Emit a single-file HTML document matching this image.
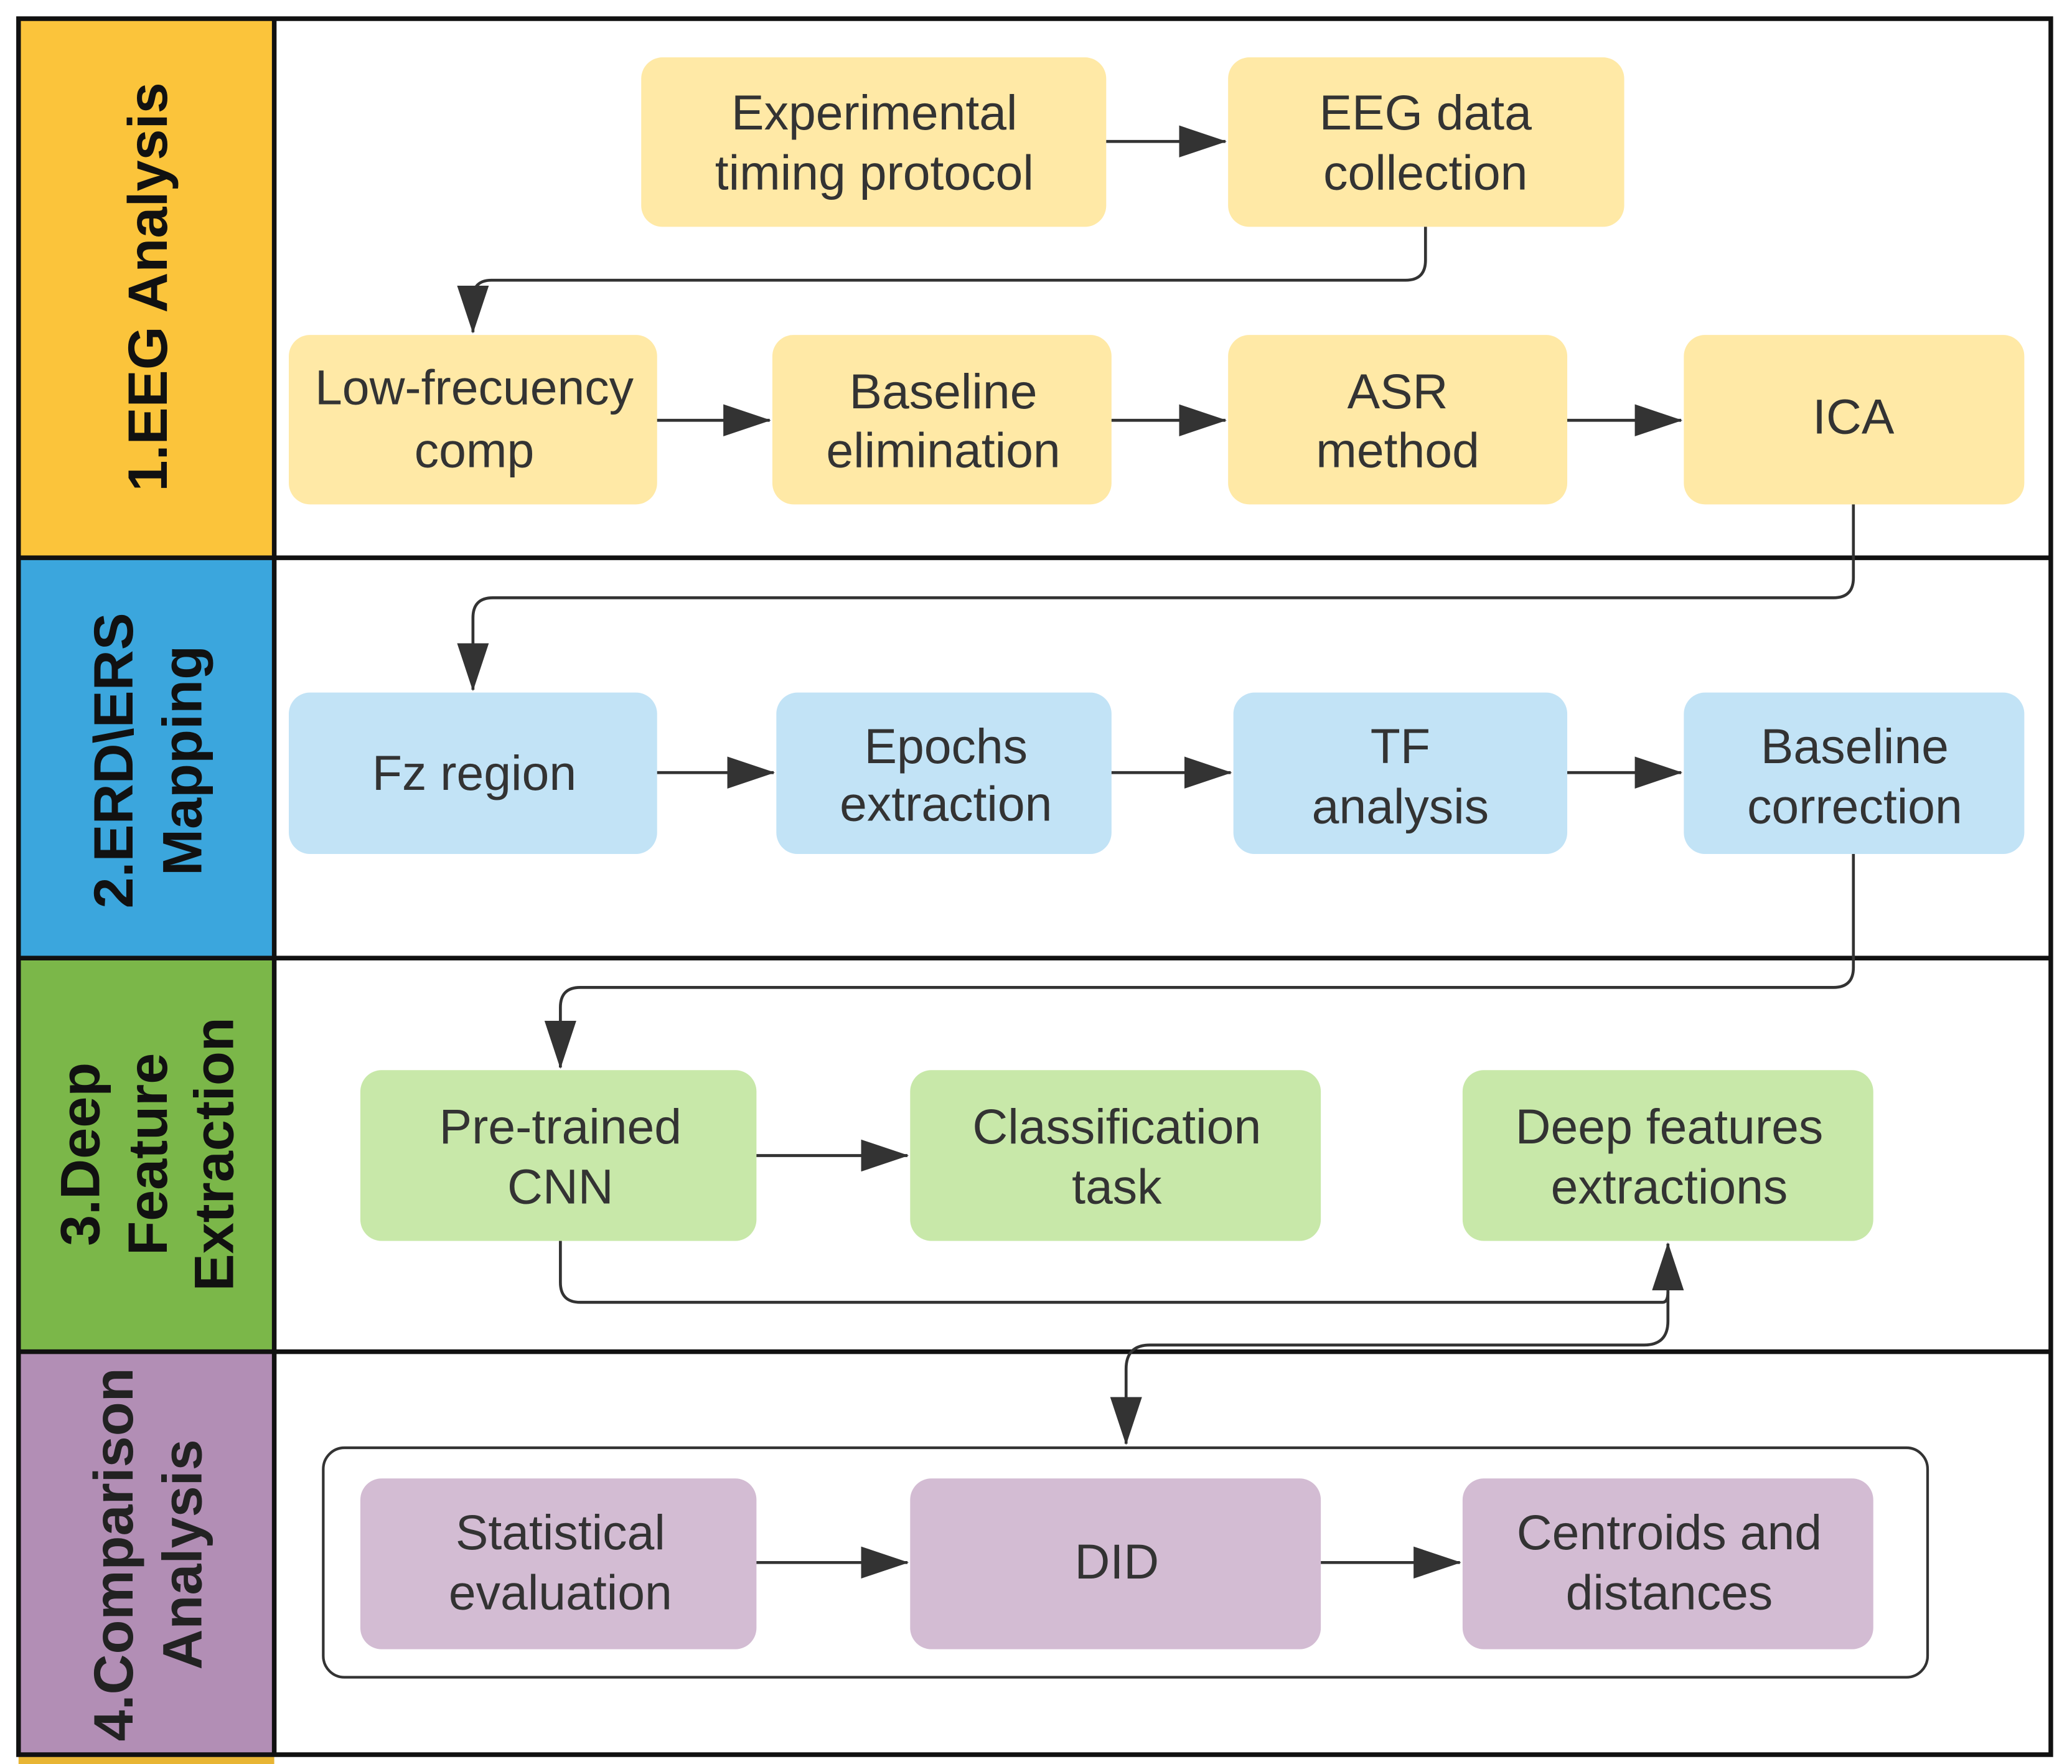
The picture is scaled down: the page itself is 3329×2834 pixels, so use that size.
<!DOCTYPE html>
<html><head><meta charset="utf-8"><style>
html,body{margin:0;padding:0;background:#fff;}
svg{display:block;}
text{font-family:"Liberation Sans",sans-serif;}
.n{font-size:37px;fill:#333;text-anchor:middle;}
.s{font-size:42px;fill:#111;text-anchor:middle;font-weight:bold;}
.c{fill:none;stroke:#333;stroke-width:2.2;}
</style></head><body>
<svg width="3329" height="2834" viewBox="0 0 1564 1322" preserveAspectRatio="none" xmlns="http://www.w3.org/2000/svg">
<defs>
<marker id="b" viewBox="0 0 36 24" refX="35" refY="12" markerWidth="36" markerHeight="24" orient="auto" markerUnits="userSpaceOnUse"><path d="M0,0 L36,12 L0,24 z" fill="#333"/></marker></defs>
<rect x="0" y="0" width="1564" height="1322" fill="#fff"/>
<rect x="14" y="14" width="193" height="404" fill="#FBC43B"/>
<rect x="14" y="418" width="193" height="300" fill="#3BA6DD"/>
<rect x="14" y="718" width="193" height="295" fill="#7BB749"/>
<rect x="14" y="1013" width="193" height="302" fill="#B28EB5"/>
<rect x="14" y="1316" width="193" height="6" fill="#E8B534"/>
<g stroke="#111" stroke-width="3.5" fill="none">
<rect x="14" y="14" width="1534" height="1301"/>
<line x1="207" y1="14" x2="207" y2="1315"/>
<line x1="14" y1="418" x2="1548" y2="418"/>
<line x1="14" y1="718" x2="1548" y2="718"/>
<line x1="14" y1="1013" x2="1548" y2="1013"/>
</g>
<text class="s" transform="translate(126,215) rotate(-90)">1.EEG Analysis</text>
<text class="s" transform="translate(100,570) rotate(-90)">2.ERD\ERS</text>
<text class="s" transform="translate(152,570) rotate(-90)">Mapping</text>
<text class="s" transform="translate(75,865) rotate(-90)">3.Deep</text>
<text class="s" transform="translate(126,865) rotate(-90)">Feature</text>
<text class="s" transform="translate(176,865) rotate(-90)">Extraction</text>
<text class="s" style="fill:#222" transform="translate(100,1165) rotate(-90)">4.Comparison</text>
<text class="s" style="fill:#222" transform="translate(152,1165) rotate(-90)">Analysis</text>
<g fill="#FFE9A6">
<rect x="484" y="43" width="351" height="127" rx="16"/>
<rect x="927" y="43" width="299" height="127" rx="16"/>
<rect x="218" y="251" width="278" height="127" rx="16"/>
<rect x="583" y="251" width="256" height="127" rx="16"/>
<rect x="927" y="251" width="256" height="127" rx="16"/>
<rect x="1271" y="251" width="257" height="127" rx="16"/>
</g>
<g fill="#C2E3F6">
<rect x="218" y="519" width="278" height="121" rx="16"/>
<rect x="586" y="519" width="253" height="121" rx="16"/>
<rect x="931" y="519" width="252" height="121" rx="16"/>
<rect x="1271" y="519" width="257" height="121" rx="16"/>
</g>
<g fill="#C8E8A9">
<rect x="272" y="802" width="299" height="128" rx="16"/>
<rect x="687" y="802" width="310" height="128" rx="16"/>
<rect x="1104" y="802" width="310" height="128" rx="16"/>
</g>
<rect x="244" y="1085" width="1211" height="172" rx="16" fill="none" stroke="#333" stroke-width="2"/>
<g fill="#D3BCD3">
<rect x="272" y="1108" width="299" height="128" rx="16"/>
<rect x="687" y="1108" width="310" height="128" rx="16"/>
<rect x="1104" y="1108" width="310" height="128" rx="16"/>
</g>
<text class="n" x="660" y="97">Experimental</text><text class="n" x="660" y="142">timing protocol</text>
<text class="n" x="1076" y="97">EEG data</text><text class="n" x="1076" y="142">collection</text>
<text class="n" x="358" y="303">Low-frecuency</text><text class="n" x="358" y="350">comp</text>
<text class="n" x="712" y="306">Baseline</text><text class="n" x="712" y="350">elimination</text>
<text class="n" x="1055" y="306">ASR</text><text class="n" x="1055" y="350">method</text>
<text class="n" x="1399" y="325">ICA</text>
<text class="n" x="358" y="592">Fz region</text>
<text class="n" x="714" y="572">Epochs</text><text class="n" x="714" y="615">extraction</text>
<text class="n" x="1057" y="572">TF</text><text class="n" x="1057" y="617">analysis</text>
<text class="n" x="1400" y="572">Baseline</text><text class="n" x="1400" y="617">correction</text>
<text class="n" x="423" y="857">Pre-trained</text><text class="n" x="423" y="902">CNN</text>
<text class="n" x="843" y="857">Classification</text><text class="n" x="843" y="902">task</text>
<text class="n" x="1260" y="857">Deep features</text><text class="n" x="1260" y="902">extractions</text>
<text class="n" x="423" y="1161">Statistical</text><text class="n" x="423" y="1206">evaluation</text>
<text class="n" x="843" y="1183">DID</text>
<text class="n" x="1260" y="1161">Centroids and</text><text class="n" x="1260" y="1206">distances</text>
<g class="c">
<path d="M835,106 H925" marker-end="url(#b)"/>
<path d="M1076,170 V195 Q1076,210 1061,210 H371 Q357,210 357,224 V249" marker-end="url(#b)"/>
<path d="M496,315 H581" marker-end="url(#b)"/>
<path d="M839,315 H925" marker-end="url(#b)"/>
<path d="M1183,315 H1269" marker-end="url(#b)"/>
<path d="M1399,378 V433 Q1399,448 1384,448 H372 Q357,448 357,463 V517" marker-end="url(#b)"/>
<path d="M496,579 H584" marker-end="url(#b)"/>
<path d="M839,579 H929" marker-end="url(#b)"/>
<path d="M1183,579 H1269" marker-end="url(#b)"/>
<path d="M1399,640 V725 Q1399,740 1384,740 H438 Q423,740 423,755 V800" marker-end="url(#b)"/>
<path d="M571,866 H685" marker-end="url(#b)"/>
<path d="M423,930 V961 Q423,976 438,976 H1255 Q1259,976 1259,968 V932" marker-end="url(#b)"/>
<path d="M1259,968 V990 Q1259,1008 1241,1008 H868 Q850,1008 850,1026 V1082" marker-end="url(#b)"/>
<path d="M571,1171 H685" marker-end="url(#b)"/>
<path d="M997,1171 H1102" marker-end="url(#b)"/>
</g>
</svg>
</body></html>
